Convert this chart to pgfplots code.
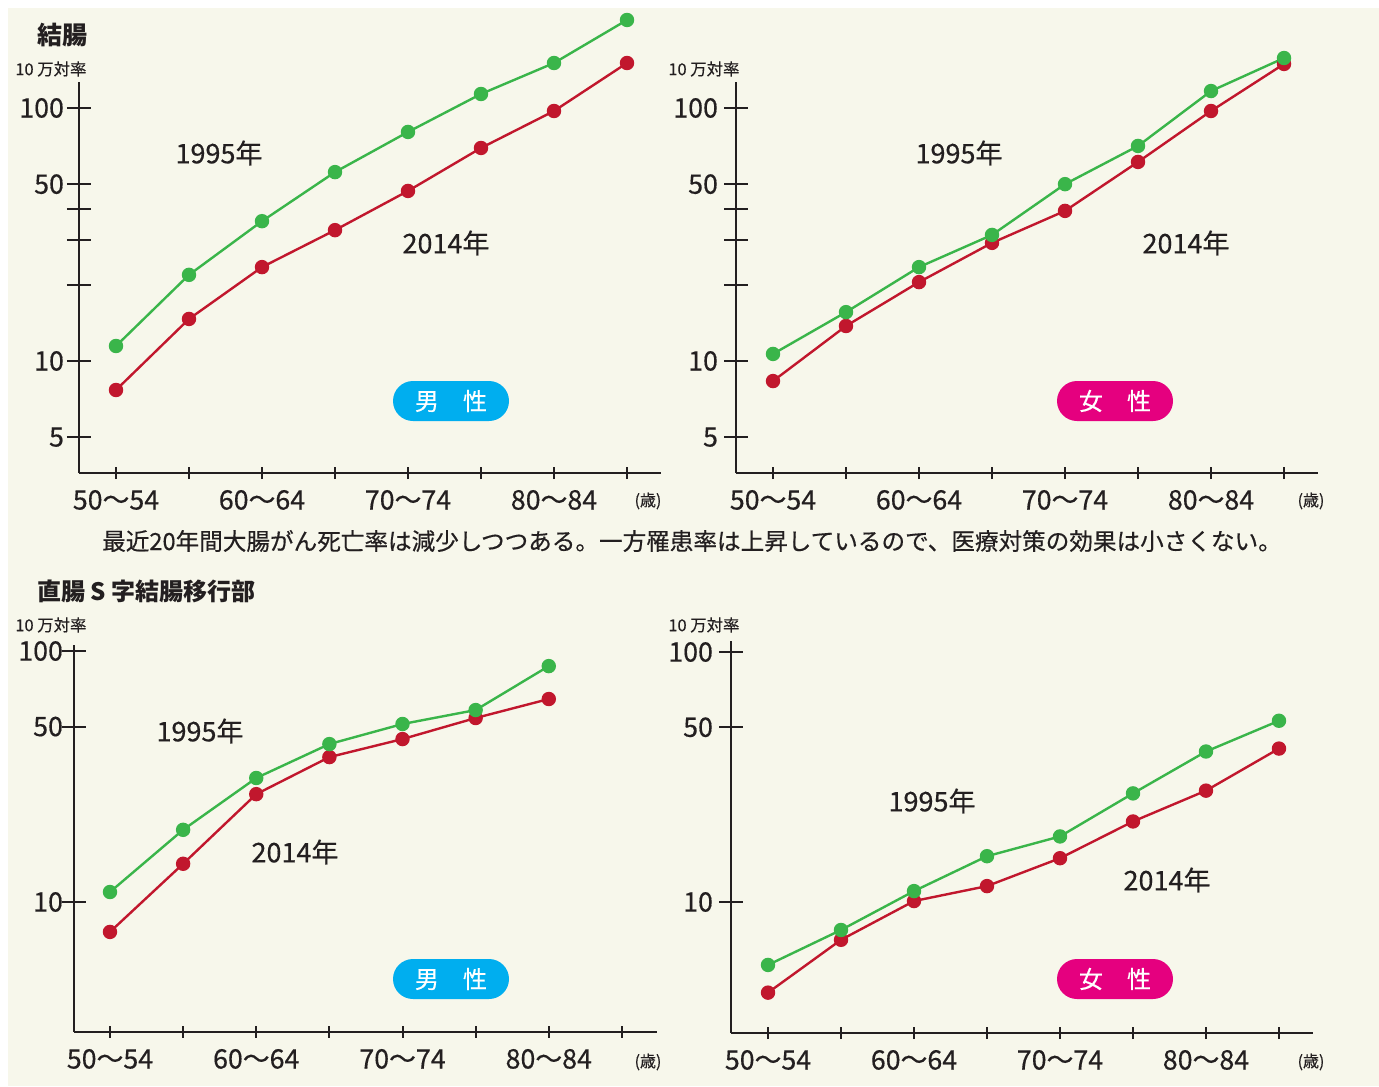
\documentclass[border=0pt]{standalone}
\usepackage{pgfplots}
\pgfplotsset{compat=1.18}
\usepackage{fontspec}
\setmainfont{Noto Sans CJK JP}[FakeBold=0.4, BoldFeatures={FakeBold=0}]
\definecolor{cream}{HTML}{F7F7EB}
\definecolor{axiscol}{HTML}{231F20}
\definecolor{gr}{HTML}{3AB54A}
\definecolor{rd}{HTML}{C1172D}
\definecolor{cy}{HTML}{00AEEF}
\definecolor{mg}{HTML}{E5007F}
\def\u{0.5pt}
\pgfplotsset{
  pan/.style={
    scale only axis, anchor=south west,
    axis lines=left,
    axis line style={-, line width=1.1pt, draw=axiscol},
    clip=false,
    xtick={0,...,7},
    xticklabels={50〜54,,60〜64,,70〜74,,80〜84,},
    tick align=center,
    major tick length=12pt,
    tick style={line width=1pt, draw=axiscol},
    xtick style={/pgfplots/major tick length=6pt},
    ticklabel style={font=\fontsize{13.4}{13.4}\selectfont, text=axiscol},
    xticklabel style={yshift=1pt},
  },
  redline/.style={rd, line width=1.2pt, mark=*, mark size=3pt, mark options={solid, fill=rd, draw=rd}},
  greenline/.style={gr, line width=1.2pt, mark=*, mark size=3pt, mark options={solid, fill=gr, draw=gr}},
}
\tikzset{
  badge/.style={fill=#1, rounded corners=10pt, minimum width=58pt, minimum height=20pt, inner sep=0pt, text=white, font=\fontsize{12}{12}\selectfont},
  yr/.style={font=\fontsize{13.5}{13.5}\selectfont, text=axiscol},
  unit/.style={font=\fontsize{8.2}{8.2}\selectfont, text=axiscol, anchor=west, inner sep=0pt},
  sai/.style={font=\fontsize{8}{8}\selectfont, text=axiscol, inner sep=0pt},
}
\begin{document}
\begin{tikzpicture}
\fill[white] (0,0) rectangle ({1379*\u},{-1086*\u});
\fill[cream] ({8*\u},{-8*\u}) rectangle ({1379*\u},{-1086*\u});

% Panel 1
\begin{axis}[pan, ymode=log, yminorticks=false, /pgf/number format/assume math mode=true,
  yticklabel style={anchor=east, xshift=2pt},
  at={(39.5pt,-236.5pt)}, width=291pt, height=195.5pt,
  xmin=-0.5068, xmax=7.4658, ymin=3.608, ymax=126.7,
  ytick={5,10,20,30,40,50,100}, yticklabels={5,10,,,,50,100}]
\addplot[redline] coordinates {(0,7.68) (1,14.66) (2,23.5) (3,32.9) (4,47.0) (5,69.5) (6,97.3) (7,150.6)};
\addplot[greenline] coordinates {(0,11.46) (1,21.9) (2,35.7) (3,55.8) (4,80.4) (5,113.6) (6,150.6) (7,222.8)};
\end{axis}

% Panel 2
\begin{axis}[pan, ymode=log, yminorticks=false, /pgf/number format/assume math mode=true,
  yticklabel style={anchor=east, xshift=0.5pt},
  at={(368pt,-236.5pt)}, width=291pt, height=195.5pt,
  xmin=-0.5068, xmax=7.4658, ymin=3.608, ymax=126.7,
  ytick={5,10,20,30,40,50,100}, yticklabels={5,10,,,,50,100}]
\addplot[redline] coordinates {(0,8.33) (1,13.75) (2,20.5) (3,29.3) (4,39.2) (5,61.2) (6,97.3) (7,149.3)};
\addplot[greenline] coordinates {(0,10.66) (1,15.6) (2,23.5) (3,31.5) (4,50.0) (5,70.8) (6,116.7) (7,157.6)};
\end{axis}

% Panel 3
\begin{axis}[pan, ymode=log, yminorticks=false, /pgf/number format/assume math mode=true,
  yticklabel style={anchor=east, xshift=4pt},
  at={(37pt,-516pt)}, width=291.5pt, height=193.5pt,
  xmin=-0.492, xmax=7.48, ymin=3.034, ymax=105.7,
  ytick={10,50,100}, yticklabels={10,50,100}]
\addplot[redline] coordinates {(0,7.6) (1,14.2) (2,26.9) (3,37.8) (4,44.6) (5,54.1) (6,64.4)};
\addplot[greenline] coordinates {(0,10.96) (1,19.4) (2,31.2) (3,42.6) (4,51.2) (5,58.2) (6,87.1)};
\end{axis}

% Panel 4
\begin{axis}[pan, ymode=log, yminorticks=false, /pgf/number format/assume math mode=true,
  yticklabel style={anchor=east, xshift=0.5pt},
  at={(365.5pt,-516.5pt)}, width=291pt, height=196pt,
  xmin=-0.507, xmax=7.466, ymin=2.992, ymax=110.7,
  ytick={10,50,100}, yticklabels={10,50,100}]
\addplot[redline] coordinates {(0,4.34) (1,7.06) (2,10.09) (3,11.58) (4,14.97) (5,21.0) (6,27.9) (7,41.1)};
\addplot[greenline] coordinates {(0,5.60) (1,7.73) (2,11.06) (3,15.25) (4,18.3) (5,27.2) (6,40.0) (7,53.1)};
\end{axis}

\node[anchor=west, inner sep=0pt, font=\fontsize{12.5}{12.5}\selectfont\bfseries, text=axiscol] at ({37*\u},{-35*\u}) {結腸};
\node[anchor=west, inner sep=0pt, font=\fontsize{12}{12}\selectfont\bfseries, text=axiscol] at ({37*\u},{-591*\u}) {直腸 S 字結腸移行部};
\node[unit] at ({15*\u},{-69*\u}) {10 万対率};
\node[unit] at ({668*\u},{-69*\u}) {10 万対率};
\node[unit] at ({15*\u},{-625*\u}) {10 万対率};
\node[unit] at ({668*\u},{-625*\u}) {10 万対率};
\node[sai] at ({648*\u},{-501*\u}) {(歳)};
\node[sai] at ({1311*\u},{-501*\u}) {(歳)};
\node[sai] at ({648*\u},{-1062*\u}) {(歳)};
\node[sai] at ({1311*\u},{-1062*\u}) {(歳)};
\node[yr] at ({219*\u},{-153*\u}) {1995年};
\node[yr] at ({446*\u},{-243*\u}) {2014年};
\node[yr] at ({959*\u},{-153*\u}) {1995年};
\node[yr] at ({1186*\u},{-243*\u}) {2014年};
\node[yr] at ({200*\u},{-731*\u}) {1995年};
\node[yr] at ({295*\u},{-852*\u}) {2014年};
\node[yr] at ({932*\u},{-801*\u}) {1995年};
\node[yr] at ({1167*\u},{-880*\u}) {2014年};
\node[badge=cy] at ({451*\u},{-401*\u}) {男　性};
\node[badge=mg] at ({1115*\u},{-401*\u}) {女　性};
\node[badge=cy] at ({451*\u},{-979*\u}) {男　性};
\node[badge=mg] at ({1115*\u},{-979*\u}) {女　性};
\node[font=\fontsize{11.8}{11.8}\selectfont, text=axiscol] at ({692*\u},{-541*\u}) {最近20年間大腸がん死亡率は減少しつつある。一方罹患率は上昇しているので、医療対策の効果は小さくない。};
\pgfresetboundingbox
\useasboundingbox (0,0) rectangle ({1379*\u},{-1086*\u});
\end{tikzpicture}
\end{document}
